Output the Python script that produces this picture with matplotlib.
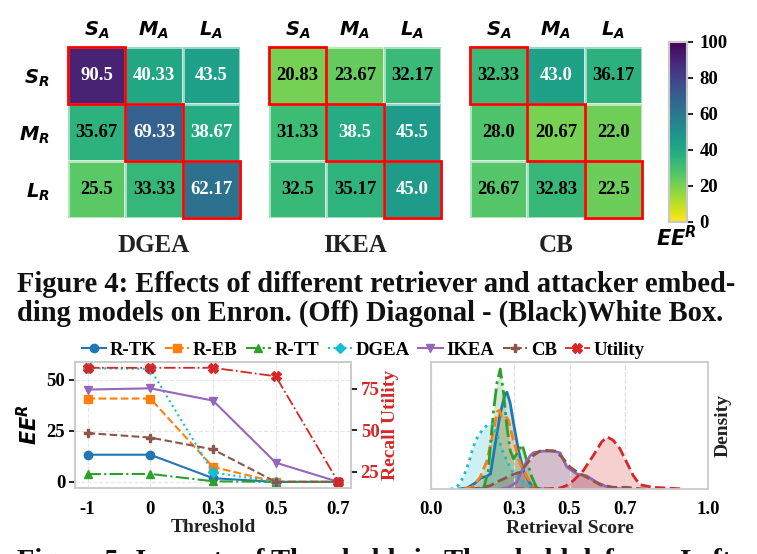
import numpy as np
import matplotlib
matplotlib.use("Agg")
import matplotlib.pyplot as plt
from matplotlib.patches import Rectangle

plt.rcParams['font.family'] = 'Liberation Serif'
plt.rcParams['font.weight'] = 'bold'
plt.rcParams['axes.labelweight'] = 'bold'
plt.rcParams['mathtext.fontset'] = 'dejavusans'

W, H = 757, 554

# ---------------- heatmap data (EE^R) ----------------
methods = ['DGEA', 'IKEA', 'CB']
col_labels = [r'$\mathbfit{S}_{\mathbfit{A}}$', r'$\mathbfit{M}_{\mathbfit{A}}$', r'$\mathbfit{L}_{\mathbfit{A}}$']
row_labels = [r'$\mathbfit{S}_{\mathbfit{R}}$', r'$\mathbfit{M}_{\mathbfit{R}}$', r'$\mathbfit{L}_{\mathbfit{R}}$']
dgea_ee = [[90.5, 40.33, 43.5], [35.67, 69.33, 38.67], [25.5, 33.33, 62.17]]
ikea_ee = [[20.83, 23.67, 32.17], [31.33, 38.5, 45.5], [32.5, 35.17, 45.0]]
cb_ee = [[32.33, 43.0, 36.17], [28.0, 20.67, 22.0], [26.67, 32.83, 22.5]]

# ---------------- threshold sweep ----------------
thresholds = ['-1', '0', '0.3', '0.5', '0.7']
r_tk = [13.3, 13.3, 1.8, 0, 0]
r_eb = [40.8, 40.8, 7.3, 0, 0]
r_tt = [3.8, 3.9, 0.3, 0, 0]
dgea_thr = [55.7, 55.3, 4.6, 0, 0]
ikea_thr = [45.2, 45.8, 39.8, 9.4, 0]
cb_thr = [23.9, 21.7, 15.9, 0, 0]
utility = [87.7, 87.7, 87.7, 82.6, 18.7]

# ---------------- retrieval score densities ----------------
tk_x = [0.10, 0.13, 0.16, 0.18, 0.20, 0.215, 0.232, 0.25, 0.268, 0.274, 0.286, 0.30, 0.316, 0.334, 0.358, 0.382, 0.40]
tk_y = [0, 0.1, 0.6, 1.1, 1.25, 1.5, 4.5, 7.5, 9.5, 9.6, 8.5, 6.2, 3.8, 1.8, 0.5, 0.07, 0]
eb_x = [0.12, 0.15, 0.178, 0.202, 0.226, 0.24, 0.247, 0.255, 0.268, 0.28, 0.298, 0.322, 0.346, 0.37, 0.39]
eb_y = [0, 0.2, 1.2, 2.8, 5.8, 7.7, 7.8, 7.2, 7.3, 6.8, 4.8, 2.5, 1.2, 0.3, 0]
tt_x = [0.17, 0.19, 0.207, 0.214, 0.226, 0.238, 0.25, 0.262, 0.274, 0.286, 0.298, 0.312, 0.329, 0.346, 0.364, 0.382, 0.40]
tt_y = [0, 0.1, 1.8, 4.2, 7.8, 10.5, 11.9, 9.5, 6.2, 3.8, 3.0, 3.6, 4.4, 2.8, 1.2, 0.1, 0]
dg_x = [0.07, 0.085, 0.10, 0.117, 0.135, 0.153, 0.17, 0.19, 0.205, 0.22, 0.238, 0.262, 0.292, 0.334, 0.37, 0.39]
dg_y = [0, 0.05, 0.4, 1.2, 2.5, 4.2, 5.3, 6.0, 6.4, 6.5, 5.5, 3.5, 1.8, 0.7, 0.07, 0]
ik_x = [0.25, 0.28, 0.31, 0.334, 0.358, 0.37, 0.40, 0.44, 0.466, 0.49, 0.526, 0.562, 0.598, 0.634, 0.68, 0.72]
ik_y = [0, 0.15, 0.7, 2.2, 3.3, 3.6, 3.75, 3.75, 3.6, 2.2, 1.5, 1.3, 0.67, 0.23, 0.03, 0]
cb_x = [0.14, 0.18, 0.214, 0.238, 0.262, 0.292, 0.322, 0.346, 0.37, 0.394, 0.418, 0.448, 0.472, 0.502, 0.538, 0.562, 0.61, 0.658, 0.706, 0.754, 0.79]
cb_y = [0, 0.1, 0.33, 0.7, 1.0, 1.4, 1.67, 2.5, 3.33, 3.77, 3.83, 3.77, 3.17, 2.17, 1.5, 1.17, 0.43, 0.17, 0.17, 0.03, 0]
ut_x = [0.30, 0.42, 0.466, 0.49, 0.514, 0.55, 0.586, 0.616, 0.636, 0.658, 0.682, 0.706, 0.73, 0.754, 0.80, 0.87, 0.91]
ut_y = [0, 0.03, 0.1, 0.35, 0.83, 1.83, 3.33, 4.67, 5.17, 4.83, 4.0, 2.67, 1.33, 0.43, 0.17, 0.07, 0]

fig = plt.figure(figsize=(W / 100, H / 100), dpi=100)


def px_axes(x0, y0, x1, y1):
    return fig.add_axes([x0 / W, 1 - y1 / H, (x1 - x0) / W, (y1 - y0) / H])


# ================= heatmaps =================
heat_lefts = [68, 269, 470]
for k, (name, data) in enumerate(zip(methods, [dgea_ee, ikea_ee, cb_ee])):
    x0 = heat_lefts[k]
    ax = px_axes(x0, 47, x0 + 172, 218)
    arr = np.array(data)
    mesh = ax.pcolormesh(arr, cmap='viridis_r', vmin=0, vmax=100,
                         edgecolors=(1, 1, 1, 0.55), linewidth=0.8)
    ax.set_xlim(0, 3)
    ax.set_ylim(3, 0)
    for i in range(3):
        for j in range(3):
            v = arr[i, j]
            ax.text(j + 0.5, i + 0.5, str(v), ha='center', va='center',
                    fontsize=13.5, color='white' if v > 37 else 'black')
        ax.add_patch(Rectangle((i, i), 1, 1, fill=False, ec='red', lw=2, clip_on=False, zorder=5))
    ax.xaxis.tick_top()
    ax.set_xticks([0.5, 1.5, 2.5])
    ax.set_xticklabels(col_labels, fontsize=14)
    ax.set_yticks([0.5, 1.5, 2.5])
    if k == 0:
        ax.set_yticklabels(row_labels, fontsize=14)
    else:
        ax.set_yticklabels([])
    ax.tick_params(axis='x', length=0, pad=4)
    ax.tick_params(axis='y', length=0, pad=13)
    for s in ax.spines.values():
        s.set_visible(False)
    fig.text((x0 + 86) / W, 1 - 245 / H, name, ha='center', va='center', fontsize=18,
             color='#222222')

cax = px_axes(669, 42, 687, 222)
cb = fig.colorbar(mesh, cax=cax, ticks=[0, 20, 40, 60, 80, 100])
cb.outline.set_edgecolor('#c8c8c8')
cb.outline.set_linewidth(1.5)
cax.tick_params(labelsize=13.5, length=4, width=1.2, pad=5)
fig.text(676 / W, 1 - 239 / H, r'$\mathbfit{EE}^{\mathbfit{R}}$', ha='center', va='center', fontsize=15)

# ================= captions =================
renderer = fig.canvas.get_renderer()
cap1 = fig.text(17 / W, 1 - 292 / H, 'Figure 4: Effects of different retriever and attacker embed-',
                ha='left', va='baseline', fontsize=19, color='#111111')
w = cap1.get_window_extent(renderer).width
fs = 19 * 718 / w
cap1.set_fontsize(fs)
fig.text(17 / W, 1 - 321 / H, 'ding models on Enron. (Off) Diagonal - (Black)White Box.',
         ha='left', va='baseline', fontsize=fs, color='#111111')
fig.text(17 / W, 1 - 569 / H, 'Figure 5: Impacts of Thresholds in Threshold defense. Left',
         ha='left', va='baseline', fontsize=fs, color='#111111')

# ================= threshold line plot =================
ax1 = px_axes(75, 362, 351, 488)
xs = np.arange(len(thresholds))
series = [
    ('R-TK', r_tk, '#1f77b4', '-', 'o'),
    ('R-EB', r_eb, '#ff7f0e', '--', 's'),
    ('R-TT', r_tt, '#2ca02c', '-.', '^'),
    ('DGEA', dgea_thr, '#17becf', ':', 'D'),
    ('IKEA', ikea_thr, '#9467bd', '-', 'v'),
    ('CB', cb_thr, '#8c564b', '--', 'P'),
]
handles = []
for lab, vals, col, ls, mk in series:
    h, = ax1.plot(xs, vals, color=col, ls=ls, marker=mk, ms=6 if mk != 'D' else 5, lw=1.5, label=lab)
    handles.append(h)
ax1.set_xlim(-0.2, 4.2)
ax1.set_ylim(-3, 58.7)
ax1.set_yticks([0, 25, 50])
ax1.set_xticks(xs)
ax1.set_xticklabels(thresholds)
ax1.tick_params(axis='y', length=4, width=1.2, labelsize=13.5, pad=3)
ax1.tick_params(axis='x', length=0, labelsize=13.5, pad=9)
ax1.grid(True, ls='--', color='#e6e6e6', lw=0.8)
ax1.set_xlabel('Threshold', fontsize=14, labelpad=1, color='#222222')
ax1.set_ylabel(r'$\mathbfit{EE}^{\mathbfit{R}}$', fontsize=15, labelpad=3)

ax2 = ax1.twinx()
hu, = ax2.plot(xs, utility, color='#d62728', ls='-.', marker='X', ms=6.5, lw=1.3, label='Utility')
handles.append(hu)
ax2.set_ylim(15.3, 91.2)
ax2.set_yticks([25, 50, 75])
ax2.tick_params(axis='y', length=4, width=1.2, labelsize=13.5, labelcolor='#d62728', pad=3)
ax2.set_ylabel('Recall Utility', color='#d62728', fontsize=14, labelpad=2)
for a in (ax1, ax2):
    for s in a.spines.values():
        s.set_color('#cccccc')
        s.set_linewidth(1.3)

# ================= density plot =================
ax3 = px_axes(431, 362, 708, 489)
dens = [
    (tk_x, tk_y, '#1f77b4', '-'),
    (eb_x, eb_y, '#ff7f0e', '--'),
    (tt_x, tt_y, '#2ca02c', '-.'),
    (dg_x, dg_y, '#17becf', ':'),
    (ik_x, ik_y, '#9467bd', '-'),
    (cb_x, cb_y, '#8c564b', '--'),
    (ut_x, ut_y, '#d62728', '--'),
]
for dx, dy, col, ls in dens:
    ax3.fill_between(dx, dy, color=col, alpha=0.22, lw=0)
    ax3.plot(dx, dy, color=col, ls=ls, lw=2)
ax3.set_xlim(0, 1)
ax3.set_ylim(0, 12.6)
ax3.set_xticks([0.0, 0.3, 0.5, 0.7, 1.0])
ax3.set_xticklabels(['0.0', '0.3', '0.5', '0.7', '1.0'])
ax3.set_yticks([])
ax3.tick_params(axis='x', length=0, labelsize=13.5, pad=9)
ax3.grid(True, axis='x', ls='--', color='#dddddd', lw=0.9)
ax3.set_xlabel('Retrieval Score', fontsize=14, labelpad=1, color='#222222')
ax3.yaxis.set_label_position('right')
ax3.set_ylabel('Density', fontsize=14, labelpad=5, color='#222222')
for s in ax3.spines.values():
    s.set_color('#cccccc')
    s.set_linewidth(1.3)

fig.legend(handles, [h.get_label() for h in handles], loc='center',
           bbox_to_anchor=(363 / W, 1 - 350 / H), ncol=7, frameon=False,
           fontsize=13.5, handlelength=1.3, handletextpad=0.2, columnspacing=0.45,
           borderaxespad=0, borderpad=0)

fig.savefig('out.png', dpi=100)
